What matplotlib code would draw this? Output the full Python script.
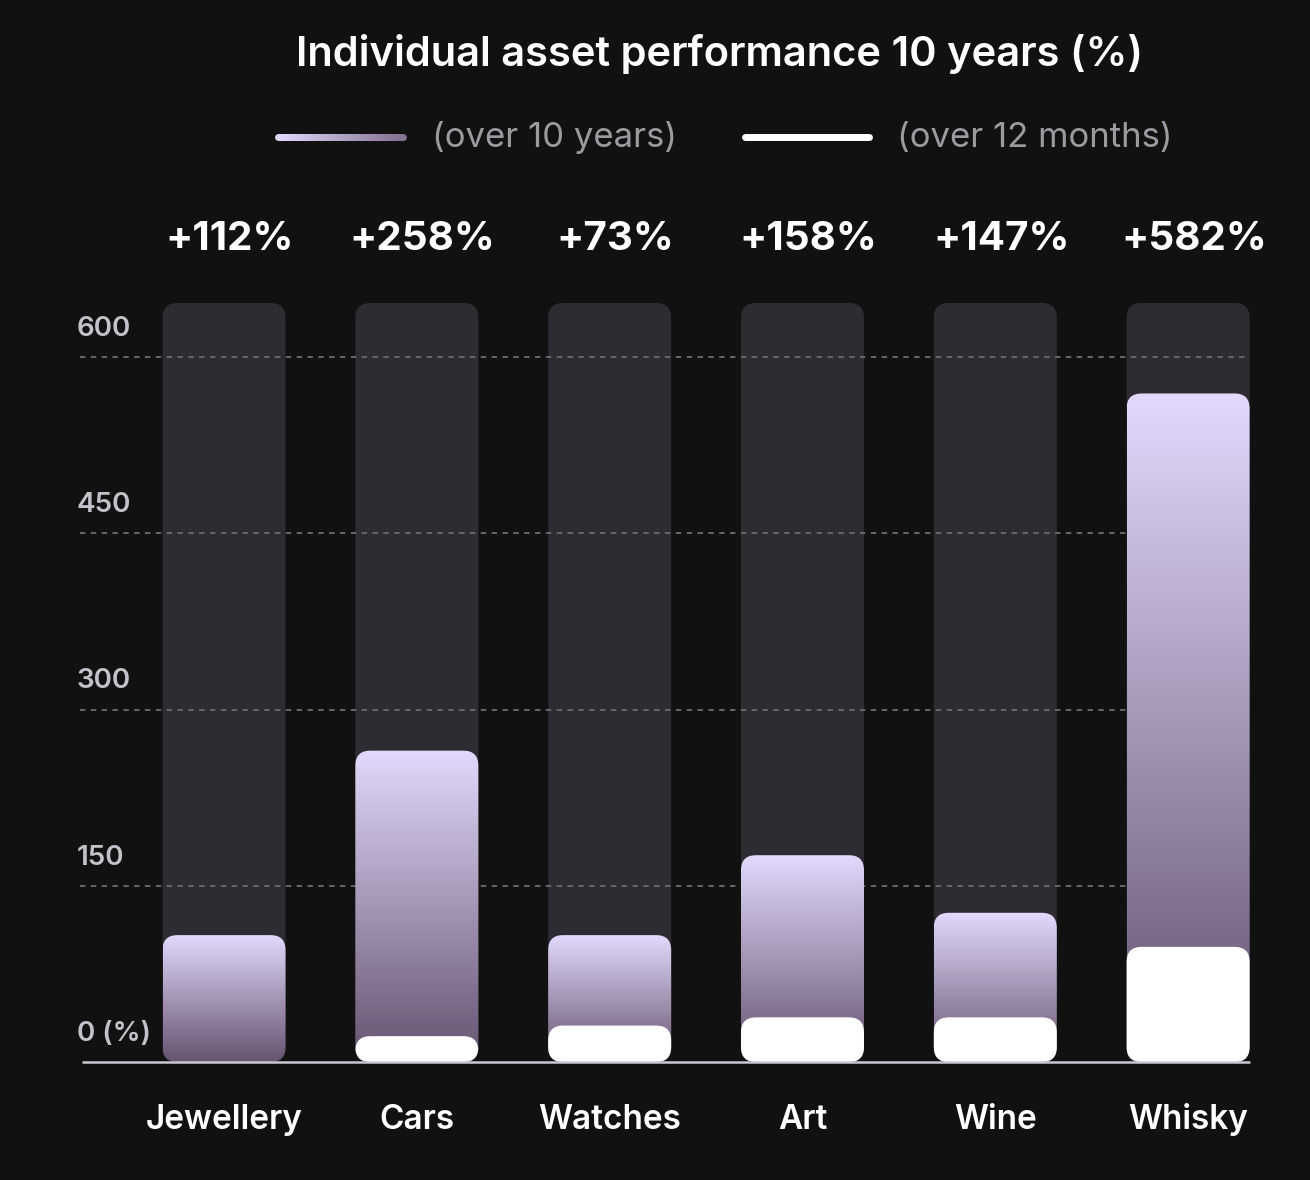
import numpy as np
import matplotlib
matplotlib.use("Agg")
import matplotlib.pyplot as plt
from matplotlib.patches import FancyBboxPatch
from matplotlib.collections import LineCollection
from matplotlib.colors import LinearSegmentedColormap

categories = ["Jewellery", "Cars", "Watches", "Art", "Wine", "Whisky"]
ten_year = [108, 265, 108, 176, 127, 569]      # bar heights as drawn
twelve_month = [0, 22, 31, 38, 38, 98]
value_labels = ["+112%", "+258%", "+73%", "+158%", "+147%", "+582%"]
yticks = [0, 150, 300, 450, 600]
ytick_labels = ["0 (%)", "150", "300", "450", "600"]
track_max = 646

BG = "#111111"
TRACK = "#2e2c32"
TOP = "#e3d9fc"
BOTTOM = "#65536f"
FONT = ["Inter", "DejaVu Sans"]

plt.rcParams["font.family"] = FONT

grad = LinearSegmentedColormap.from_list("purp", [BOTTOM, "#a496b5", TOP])

fig = plt.figure(figsize=(13.1, 11.8), dpi=100, facecolor=BG)
W, H = 1310, 1180
ax = fig.add_axes([80 / W, 118 / H, 1170 / W, 759 / H])
ax.set_facecolor(BG)
xmin, xmax = -0.747, 5.321
ax.set_xlim(xmin, xmax)
ax.set_ylim(0, track_max)
ax.axis("off")

bar_w = 0.638
# px per unit
px_x = 1170 / (xmax - xmin)
px_y = 759 / track_max
aspect = px_x / px_y
r = 15 / px_x


def rounded(x0, h, color, z):
    p = FancyBboxPatch((x0, 0), bar_w, h,
                       boxstyle=f"round,pad=0,rounding_size={r}",
                       mutation_aspect=aspect, facecolor=color,
                       edgecolor="none", zorder=z)
    ax.add_patch(p)
    return p


gradient = np.linspace(0, 1, 256).reshape(-1, 1)
for i, cat in enumerate(categories):
    x0 = i - bar_w / 2
    rounded(x0, track_max, TRACK, 1)
    p = rounded(x0, ten_year[i], "none", 3)
    im = ax.imshow(gradient, cmap=grad, origin="lower", aspect="auto",
                   extent=[x0, x0 + bar_w, 0, ten_year[i]], zorder=3)
    im.set_clip_path(p)
    if twelve_month[i] > 0:
        rounded(x0, twelve_month[i], "white", 4)
    ax.text(i + 0.03, 700, value_labels[i], ha="center", va="center",
            color="white", fontsize=29, fontweight="bold", clip_on=False)
    ax.text(i, -49, cat, ha="center", va="center", color="white",
            fontsize=24, fontweight="semibold", clip_on=False)

ax.set_xlim(xmin, xmax)
ax.set_ylim(0, track_max)

for v, lab in zip(yticks, ytick_labels):
    if v == 0:
        ax.plot([xmin + 2 / px_x, xmax], [0, 0], color="#c9c7d1", lw=1.8,
                zorder=5, solid_capstyle="butt", clip_on=False)
    else:
        ax.plot([xmin, xmax], [v, v], color="#6d6c72", lw=1.3,
                ls=(0, (3, 3)), zorder=2)
    ax.text(xmin - 3 / px_x, v + 24, lab, ha="left", va="center",
            color="#c3c1ca", fontsize=20, fontweight="semibold", clip_on=False)

fig.text(720 / W, 1 - 54 / H, "Individual asset performance 10 years (%)",
         ha="center", va="center", color="white", fontsize=30,
         fontweight="semibold")

# legend
lx = np.linspace(278 / W, 403 / W, 60)
ly = np.full_like(lx, 1 - 137 / H)
segs = [[(lx[k], ly[k]), (lx[k + 1], ly[k + 1])] for k in range(len(lx) - 1)]
lc = LineCollection(segs, colors=grad(np.linspace(1, 0.25, len(segs))),
                    linewidths=5, transform=fig.transFigure, capstyle="round")
fig.add_artist(lc)
fig.text(432 / W, 1 - 138 / H, "(over 10 years)", ha="left", va="center",
         color="#9b9aa0", fontsize=25)
fig.add_artist(plt.Line2D([745 / W, 869 / W], [1 - 137 / H, 1 - 137 / H],
                          color="white", lw=5, solid_capstyle="round",
                          transform=fig.transFigure))
fig.text(897 / W, 1 - 138 / H, "(over 12 months)", ha="left", va="center",
         color="#9b9aa0", fontsize=25)

fig.savefig("out.png", dpi=100, facecolor=BG)
